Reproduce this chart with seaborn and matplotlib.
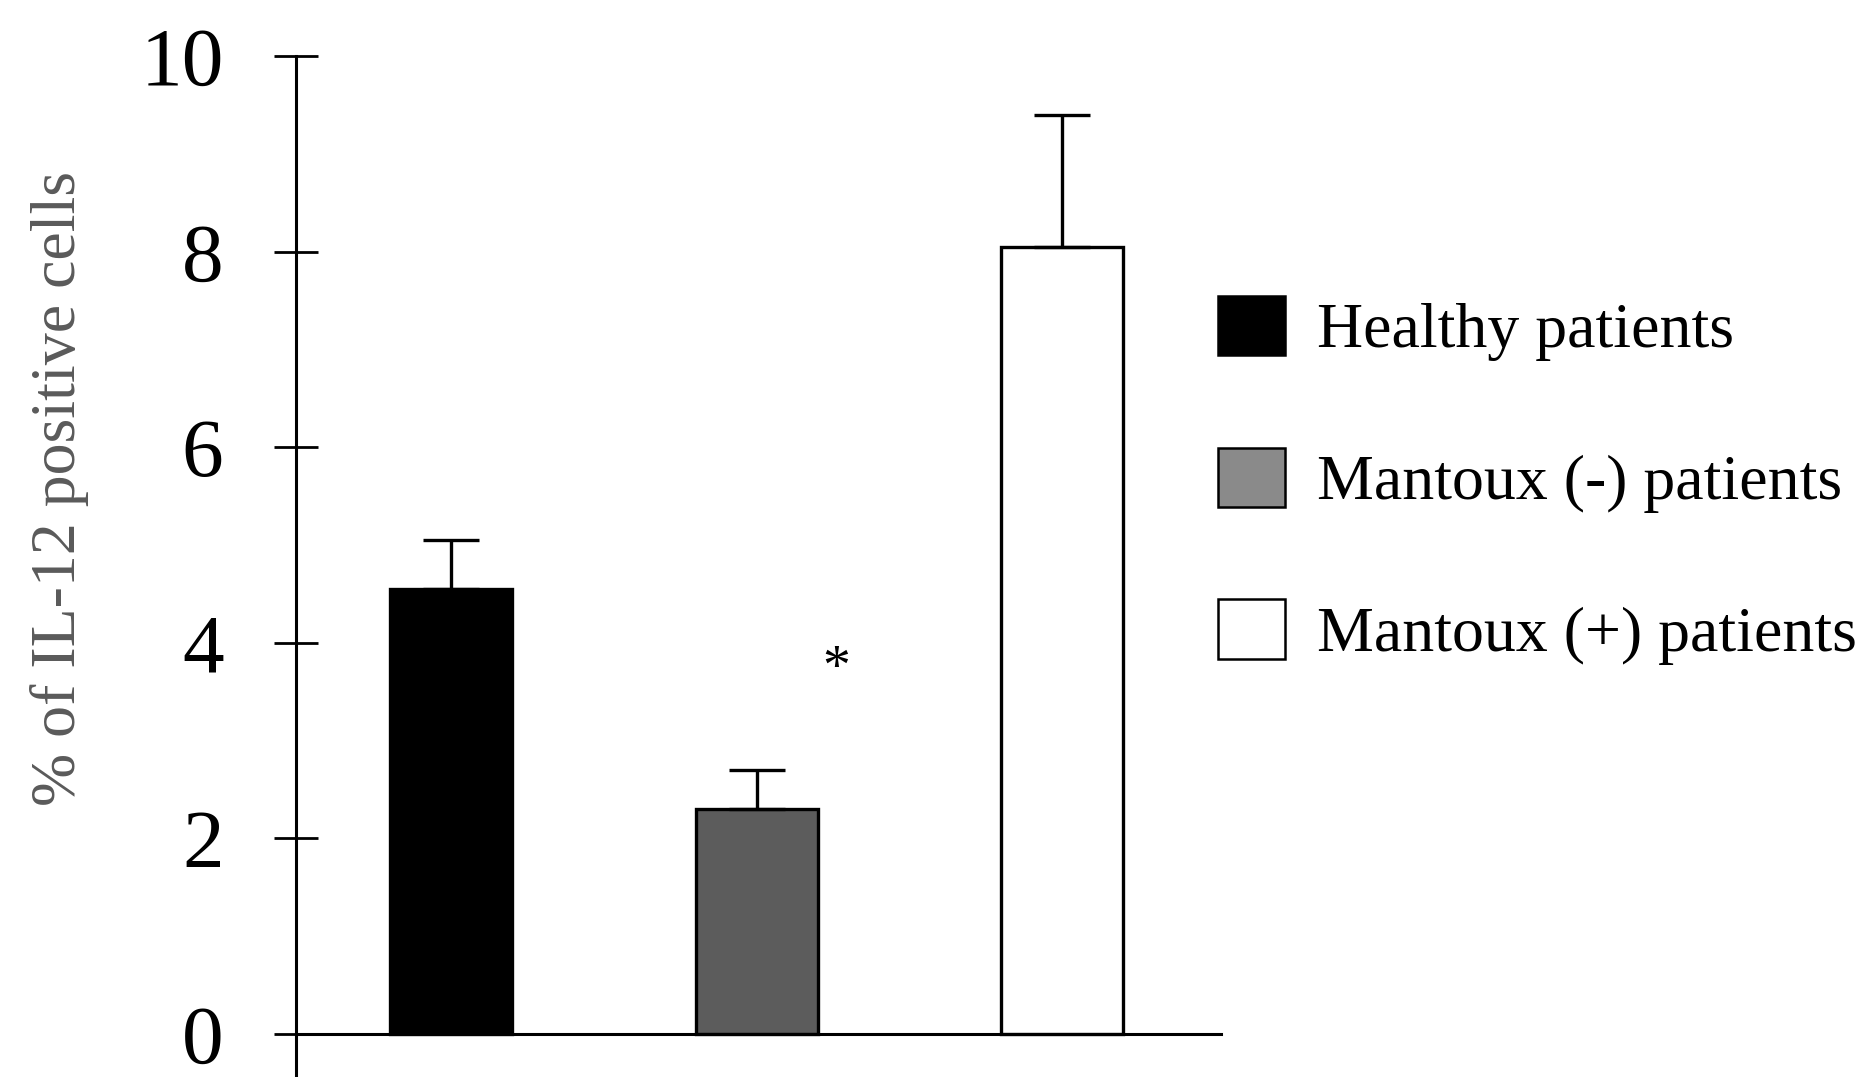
import numpy as np
import seaborn as sns
from matplotlib import pyplot as plt
from matplotlib.patches import Patch

# values
groups = ['Healthy patients', 'Mantoux (-) patients', 'Mantoux (+) patients']
means = [4.55, 2.30, 8.05]
sem = [0.50, 0.40, 1.35]
bar_colors = ['#000000', '#5c5c5c', '#ffffff']
legend_colors = ['#000000', '#8a8a8a', '#ffffff']
y_ticks = [0, 2, 4, 6, 8, 10]

sns.set_style('white')
plt.rcParams['font.family'] = ['Liberation Serif', 'DejaVu Serif']
plt.rcParams['text.color'] = 'black'
plt.rcParams['ytick.color'] = 'black'

fig = plt.figure(figsize=(18.72, 10.77), dpi=100)
ax = fig.add_axes([0.158, 0.0, 0.494, 0.948])

sns.barplot(x=groups, y=means, hue=groups, palette=bar_colors, width=0.4,
            edgecolor='black', linewidth=2.4, legend=False, saturation=1, ax=ax)

# upper error bars only
ax.errorbar(np.arange(len(groups)), means, yerr=[np.zeros(len(sem)), sem],
            fmt='none', ecolor='black', elinewidth=2.4, capsize=20, capthick=2.4)

ax.text(1.26, 3.72, '*', fontsize=40, ha='center', va='center')

ax.set_xlim(-0.51, 2.52)
ax.set_ylim(-0.44, 10)
ax.set_yticks(y_ticks)
ax.set_xticks([])
ax.set_xlabel('')
ax.set_ylabel('')
ax.tick_params(axis='y', direction='inout', length=32, width=2.0,
               labelsize=60, pad=36, left=True, colors='black')

for s in ['top', 'right']:
    ax.spines[s].set_visible(False)
ax.spines['left'].set_linewidth(2.2)
ax.spines['bottom'].set_linewidth(2.2)
ax.spines['bottom'].set_position(('data', 0))
ax.spines['left'].set_color('black')
ax.spines['bottom'].set_color('black')

fig.text(60 / 1872, 1 - 488 / 1077, '% of IL-12 positive cells', rotation=90,
         ha='center', va='center', fontsize=46, color='#5a5a5a')

handles = [Patch(facecolor=c, edgecolor='black', linewidth=1.8) for c in legend_colors]
fig.legend(handles, groups, loc='upper left', bbox_to_anchor=(1218 / 1872, 1 - 296 / 1077),
           frameon=False, fontsize=46, handlelength=1.05, handleheight=1.05,
           handletextpad=0.5, labelspacing=1.35, borderpad=0, borderaxespad=0)

fig.savefig('out.png', dpi=100)
